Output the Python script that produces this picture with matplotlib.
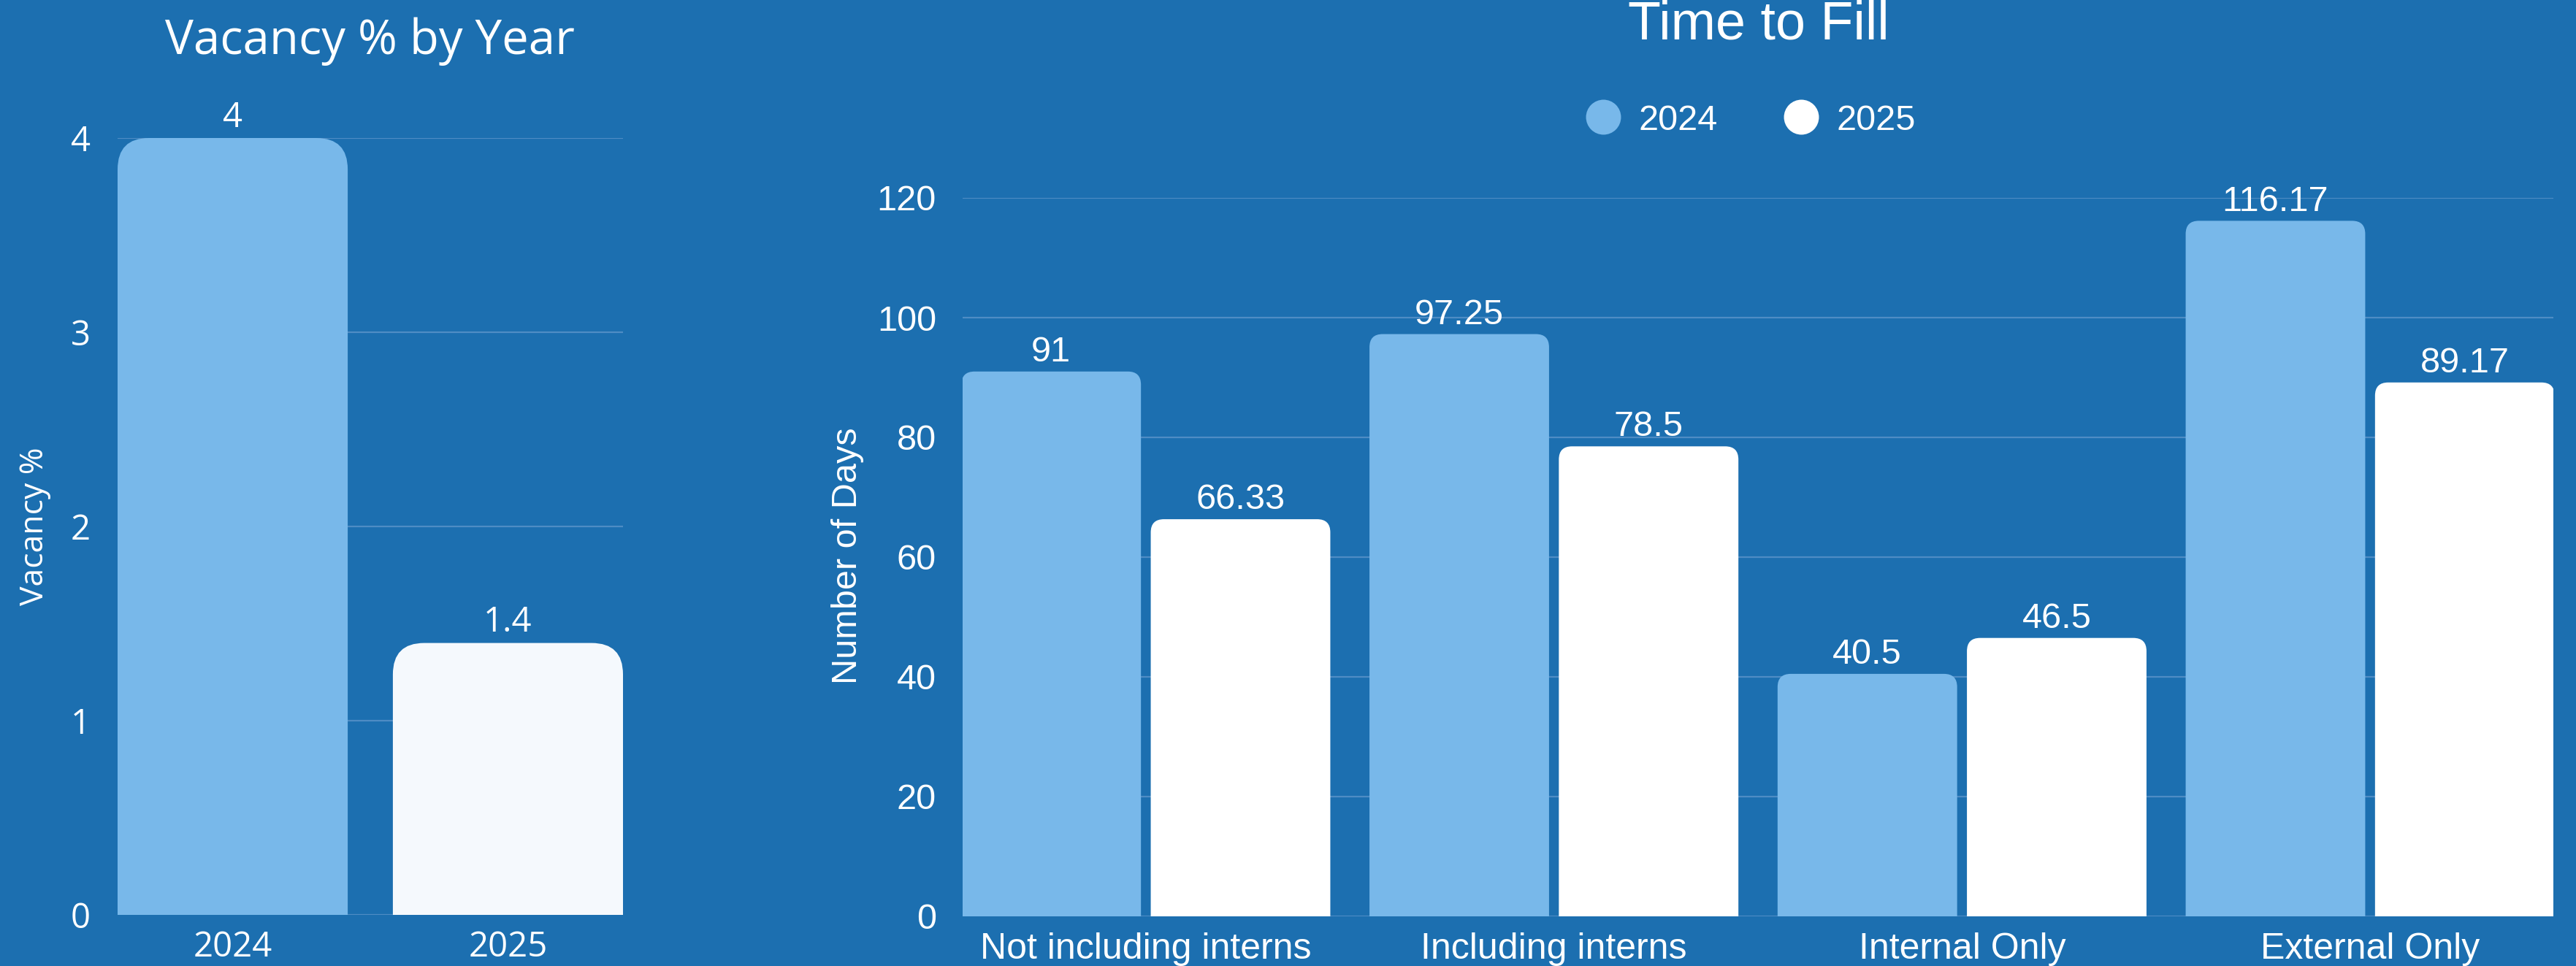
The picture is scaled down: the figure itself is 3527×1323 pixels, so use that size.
import matplotlib
matplotlib.use("Agg")
import matplotlib.pyplot as plt
from matplotlib.path import Path
from matplotlib.patches import PathPatch
from matplotlib.lines import Line2D

# Данные
vac_years = ["2024", "2025"]
vac_values = [4, 1.4]

fill_cats = ["Not including interns", "Including interns", "Internal Only", "External Only"]
fill_2024 = [91, 97.25, 40.5, 116.17]
fill_2025 = [66.33, 78.5, 46.5, 89.17]

BG = "#1C6FB0"
LIGHT = "#78B8EA"
GRID = "#4E8CC4"
DPI = 100
W, H = 3527, 1323

fig = plt.figure(figsize=(W / DPI, H / DPI), dpi=DPI, facecolor=BG)


def rounded_bar(ax, x, width, height, r_px, color):
    # ширина/высота пикселя в единицах данных
    bb = ax.get_window_extent()
    x0, x1 = ax.get_xlim()
    y0, y1 = ax.get_ylim()
    rx = r_px * (x1 - x0) / bb.width
    ry = min(r_px * (y1 - y0) / bb.height, height)
    l, rgt = x - width / 2, x + width / 2
    verts = [(l, 0), (l, height - ry), (l, height), (l + rx, height),
             (rgt - rx, height), (rgt, height), (rgt, height - ry), (rgt, 0), (l, 0)]
    codes = [Path.MOVETO, Path.LINETO, Path.CURVE3, Path.CURVE3,
             Path.LINETO, Path.CURVE3, Path.CURVE3, Path.LINETO, Path.CLOSEPOLY]
    ax.add_patch(PathPatch(Path(verts, codes), facecolor=color, edgecolor="none", zorder=2))


def style(ax, font, ypad, xpad, size, xsize):
    ax.set_facecolor(BG)
    for s in ax.spines.values():
        s.set_visible(False)
    ax.set_axisbelow(True)
    ax.grid(axis="y", color=GRID, linewidth=1.6)
    ax.tick_params(length=0, colors="white", labelsize=size)
    ax.tick_params(axis="y", pad=ypad)
    ax.tick_params(axis="x", pad=xpad, labelsize=xsize)
    for lab in ax.get_xticklabels() + ax.get_yticklabels():
        lab.set_fontfamily(font)


# --- левый график: Vacancy % by Year
ax1 = fig.add_axes([161 / W, 70 / H, 692 / W, 1064 / H])
ax1.set_xlim(-0.418, 1.418)
ax1.set_ylim(0, 4)
ax1.set_yticks([0, 1, 2, 3, 4])
ax1.set_xticks(range(len(vac_years)))
ax1.set_xticklabels(vac_years)
style(ax1, "Open Sans", 27, 15, 34, 34)
ax1.set_ylabel("Vacancy %", color="white", fontsize=32, family="Open Sans")
ax1.yaxis.set_label_coords(-0.131, 0.5)
vac_colors = [LIGHT, "#F5F9FD"]
for i, v in enumerate(vac_values):
    rounded_bar(ax1, i, 0.836, v, 43, vac_colors[i])
    ax1.annotate(f"{v:g}", (i, v), xytext=(0, 11), textcoords="offset points",
                 ha="center", va="baseline", color="white", fontsize=34, family="Open Sans")
fig.text(506 / W, 1 - 74 / H, "Vacancy % by Year", ha="center", va="baseline",
         color="white", fontsize=47, family="Open Sans")

# --- правый график: Time to Fill
ax2 = fig.add_axes([1318 / W, 68 / H, 2178 / W, 984 / H])
ax2.set_xlim(-0.449, 3.449)
ax2.set_ylim(0, 120)
ax2.set_yticks(range(0, 121, 20))
ax2.set_xticks(range(len(fill_cats)))
ax2.set_xticklabels(fill_cats)
style(ax2, "Liberation Sans", 26, 16, 35, 36)
ax2.set_ylabel("Number of Days", color="white", fontsize=35, family="Liberation Sans")
ax2.yaxis.set_label_coords(-0.062, 0.502)
bw, off = 0.44, 0.232
for i in range(len(fill_cats)):
    for xs, v, c in ((i - off, fill_2024[i], LIGHT), (i + off, fill_2025[i], "white")):
        rounded_bar(ax2, xs, bw, v, 18, c)
        ax2.annotate(f"{v:g}", (xs, v), xytext=(0, 10), textcoords="offset points",
                     ha="center", va="baseline", color="white", fontsize=35,
                     family="Liberation Sans")
fig.text(2408 / W, 1 - 54 / H, "Time to Fill", ha="center", va="baseline",
         color="white", fontsize=53, family="Liberation Sans")

handles = [Line2D([], [], marker="o", linestyle="none", markersize=34.5,
                  markerfacecolor=c, markeredgecolor="none") for c in (LIGHT, "white")]
leg = fig.legend(handles, ["2024", "2025"], loc="center", ncol=2,
                 bbox_to_anchor=(2397 / W, 1 - 165 / H), frameon=False,
                 handlelength=1.0, handletextpad=0.5, columnspacing=1.85,
                 borderpad=0, prop={"family": "Liberation Sans", "size": 35})
for t in leg.get_texts():
    t.set_color("white")

fig.savefig("out.png", dpi=DPI, facecolor=BG)
